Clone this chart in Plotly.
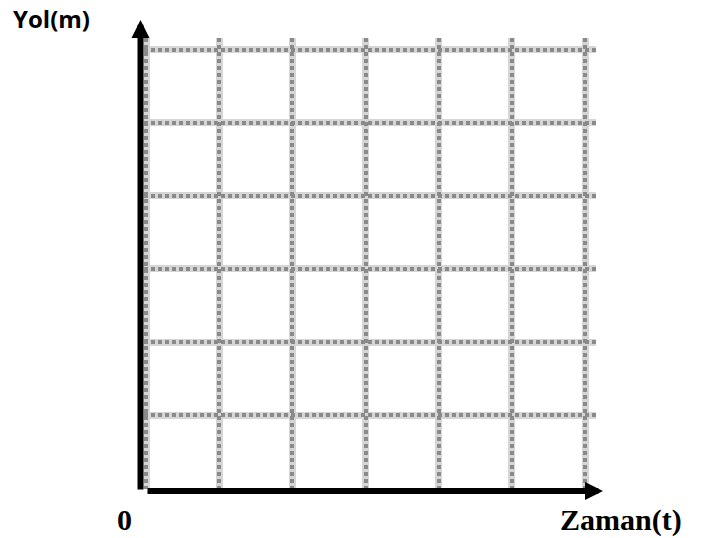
import plotly.graph_objects as go

# Axis grid values (the chart is an empty grid for Yol(m) vs Zaman(t))
x_ticks = [0, 1, 2, 3, 4, 5, 6]
y_ticks = [0, 1, 2, 3, 4, 5, 6]
x_title = "Zaman(t)"
y_title = "Yol(m)"
origin_label = "0"

x_range = [-0.03, 6.15]
y_range = [-0.01, 6.16]

fig = go.Figure()
# empty traces so both grid layers are drawn
fig.add_trace(go.Scatter(x=[], y=[], mode="markers", showlegend=False, hoverinfo="skip"))
fig.add_trace(go.Scatter(x=[], y=[], mode="markers", showlegend=False, hoverinfo="skip",
                         xaxis="x2", yaxis="y2"))

halo = dict(showgrid=True, gridcolor="#d6d6d6", gridwidth=7, griddash="solid",
            zeroline=False, showline=False, showticklabels=False, ticks="")
dots = dict(showgrid=True, gridcolor="#8a8a8a", gridwidth=4, griddash="4px,3px",
            zeroline=False, showline=False, showticklabels=False, ticks="")

fig.update_layout(
    width=711, height=538,
    margin=dict(l=144, r=115, t=38, b=49),
    paper_bgcolor="white", plot_bgcolor="white",
    showlegend=False,
    xaxis=dict(range=x_range, tickvals=x_ticks, **halo),
    yaxis=dict(range=y_range, tickvals=y_ticks, **halo),
    xaxis2=dict(range=x_range, tickvals=x_ticks, overlaying="x", **dots),
    yaxis2=dict(range=y_range, tickvals=y_ticks, overlaying="y", **dots),
)

W = 711 - 144 - 115
H = 538 - 38 - 49


def px_to_paper(px, py):
    return (px - 144) / W, (538 - 49 - py) / H


yx, yy = px_to_paper(140.5, 20)
xx, xy = px_to_paper(603, 491)
t1x, t1y = px_to_paper(51, 19)
t2x, t2y = px_to_paper(124, 519)
t3x, t3y = px_to_paper(621, 520)

annotations = [
    # y axis arrow
    dict(xref="paper", yref="paper", x=yx, y=yy, text="", showarrow=True,
         axref="pixel", ayref="pixel", ax=0, ay=471, arrowhead=2, arrowsize=0.6,
         arrowwidth=6, arrowcolor="black", standoff=0),
    # x axis arrow
    dict(xref="paper", yref="paper", x=xx, y=xy, text="", showarrow=True,
         axref="pixel", ayref="pixel", ax=-457, ay=0, arrowhead=2, arrowsize=0.6,
         arrowwidth=6, arrowcolor="black", standoff=0),
    dict(xref="paper", yref="paper", x=t1x, y=t1y, text=y_title, showarrow=False,
         xanchor="center", yanchor="middle",
         font=dict(family="Open Sans", size=24, color="black", weight="bold")),
    dict(xref="paper", yref="paper", x=t2x, y=t2y, text=origin_label, showarrow=False,
         xanchor="center", yanchor="middle",
         font=dict(family="Liberation Serif", size=30, color="black", weight="bold")),
    dict(xref="paper", yref="paper", x=t3x, y=t3y, text=x_title, showarrow=False,
         xanchor="center", yanchor="middle",
         font=dict(family="Liberation Serif", size=30, color="black", weight="bold")),
]
fig.update_layout(annotations=annotations)

fig.write_html("out.html", config={"displayModeBar": False},
               post_script="document.body.style.margin='0';document.body.style.overflow='hidden';")
